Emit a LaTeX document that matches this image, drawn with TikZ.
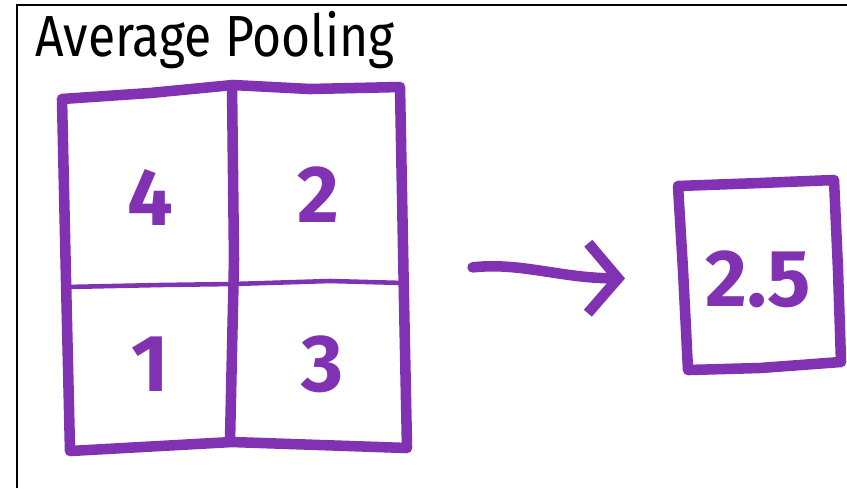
\documentclass[tikz,border=0pt]{standalone}
\usepackage{fontspec}
\setmainfont{Fira Sans}
\usepackage{xcolor}
\usepackage{tikz}
\usetikzlibrary{arrows.meta,positioning}
\definecolor{marker}{RGB}{128,50,178}

\begin{document}
\begin{tikzpicture}[x=0.02cm,y=-0.02cm,>=latex,
  pen/.style={draw=marker,line width=6pt,line cap=round,line join=round},
  thinpen/.style={draw=marker,line width=2.6pt,line cap=round,line join=round},
  digit/.style={text=marker,font=\fontsize{46}{46}\selectfont\bfseries,inner sep=0pt}]
  \useasboundingbox (0,0) rectangle (847,488);
  \draw[line width=0.9pt] (17,488)--(17,5)--(847,5);
  \node[anchor=base west,inner sep=0pt,font=\fontsize{33}{33}\selectfont] (title) at (35,56) {\scalebox{0.86}[1]{Average Pooling}};
  \draw[pen] (62,99)--(150,93)--(233,85)--(310,89)--(400,87)--(404,300)--(407,448)--(232,442)--(70,451)--(66,280)--cycle;
  \draw[pen] (232,85)--(234,260)--(230,441);
  \draw[thinpen] (66,287)--(160,285)--(233,284)--(330,281)--(404,283);
  \node[digit] (four) at (150,197) {4};
  \node[digit] (two) at (318,195) {2};
  \node[digit] (one) at (150,364) {1};
  \node[digit] (three) at (323,364) {3};
  \coordinate (grid) at (405,275);
  \draw[pen] (678,186)--(760,183)--(834,180)--(838,270)--(841,362)--(760,368)--(688,370)--(683,270)--cycle;
  \node[digit] (avg) at (758,279) {2.5};
  \draw[pen,-{Straight Barb[length=0.6cm,width=1.4cm]},shorten <=1.36cm,shorten >=1.6cm]
    (grid) .. controls (520,262) and (560,278) .. (avg.west);
\end{tikzpicture}
\end{document}
